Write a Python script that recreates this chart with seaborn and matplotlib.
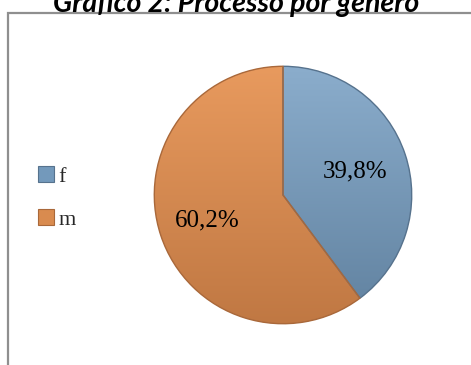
import matplotlib
matplotlib.use("Agg")
import matplotlib.pyplot as plt
from matplotlib.patches import Rectangle
from matplotlib.colors import LinearSegmentedColormap
import seaborn as sns
import numpy as np

sns.set_theme(style="white")

# Share of cases by gender
categories = ["f", "m"]
shares = [39.8, 60.2]
value_labels = ["39,8%", "60,2%"]
title = "Gráfico 2: Processo por gênero"

colors = ["#7399bb", "#d98b4f"]
top_colors = ["#8badcc", "#e89a5e"]
bottom_colors = ["#60819f", "#c07843"]
edge_colors = ["#56728d", "#a9683a"]

W, H = 471, 365
fig = plt.figure(figsize=(W / 100, H / 100), dpi=100)
fig.patch.set_facecolor("white")

# Chart frame (open to the right and bottom edges)
fig.patches.append(Rectangle((8 / W, -0.1), 1.2, 1 - 13 / H + 0.1,
                             transform=fig.transFigure, fill=False,
                             edgecolor="#8f8f8f", lw=1.6, zorder=0))

fig.text(236 / W, 1 - 12 / H, title, ha="center", va="baseline",
         fontsize=20.5, fontweight="bold", fontstyle="italic",
         family="Lato", color="black")

# Pie axes: center (283, 195), radius 130 px
r = 130
cx, cy = 283, 195
ax = fig.add_axes([(cx - r) / W, 1 - (cy + r) / H, 2 * r / W, 2 * r / H])
wedges, _ = ax.pie(shares, colors=colors, startangle=90, counterclock=False,
                   radius=1.0, wedgeprops=dict(linewidth=1.0))
ax.set_aspect("equal")
ax.set_xlim(-1.01, 1.01)
ax.set_ylim(-1.01, 1.01)
ax.axis("off")

# Vertical light-to-dark shading inside each wedge
grad = np.linspace(1, 0, 256).reshape(-1, 1)
for w, top, bot, ec in zip(wedges, top_colors, bottom_colors, edge_colors):
    cmap = LinearSegmentedColormap.from_list("shade", [bot, top])
    im = ax.imshow(grad, cmap=cmap, extent=(-1, 1, -1, 1), origin="upper",
                   aspect="auto", zorder=w.get_zorder() + 0.1, vmin=0, vmax=1)
    im.set_clip_path(w)
    w.set_edgecolor(ec)
    w.set_facecolor("none")
    w.set_zorder(w.get_zorder() + 0.2)

# Value labels placed along each wedge's mid-angle
label_r = [0.59, 0.62]
start = 90.0
for share, lab, rr in zip(shares, value_labels, label_r):
    mid = start - share * 3.6 / 2
    start -= share * 3.6
    ang = np.deg2rad(mid)
    ax.text(rr * np.cos(ang), rr * np.sin(ang), lab,
            ha="center", va="center", fontsize=18, zorder=5,
            family="Liberation Serif", color="black")

# Legend with square swatches
leg_handles = [Rectangle((0, 0), 1, 1, facecolor=c, edgecolor=e, lw=0.8)
               for c, e in zip(colors, edge_colors)]
fig.legend(leg_handles, categories, loc="center left",
           bbox_to_anchor=(27 / W, 1 - 198 / H), frameon=False,
           prop=dict(family="Liberation Serif", size=16),
           handlelength=0.7, handleheight=0.7, handletextpad=0.2,
           labelspacing=1.0, borderpad=0)

fig.savefig("out.png", dpi=100, facecolor="white")
